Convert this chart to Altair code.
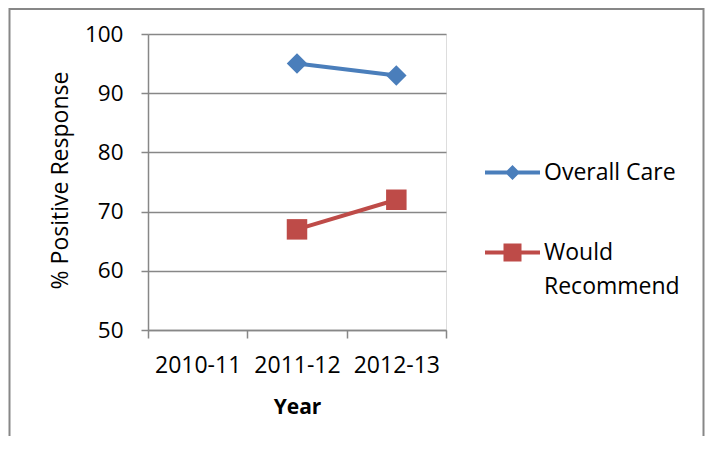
import altair as alt
import pandas as pd

# ---- data ----
years = ["2010-11", "2011-12", "2012-13"]
series_names = ["Overall Care", "Would Recommend"]
overall_care = [None, 95, 93]
would_recommend = [None, 67, 72]
series_colors = ["#4A7EBB", "#BE4B48"]
y_ticks = [50, 60, 70, 80, 90, 100]

rows = []
for name, vals in zip(series_names, [overall_care, would_recommend]):
    for yr, v in zip(years, vals):
        if v is not None:
            rows.append({"year": yr, "series": name, "value": v})
df = pd.DataFrame(rows)

FONT = "Open Sans"
GRAY = "#878787"

x_enc = alt.X(
    "year:N",
    scale=alt.Scale(type="band", domain=years, paddingInner=0, paddingOuter=0),
    axis=alt.Axis(
        title="Year",
        labelAngle=0,
        tickBand="extent",
        tickSize=8,
        tickWidth=1.5,
        tickColor=GRAY,
        domainColor=GRAY,
        domainWidth=1.5,
        grid=False,
        labelFont=FONT,
        labelFontSize=23,
        labelColor="black",
        labelBaseline="alphabetic",
        labelPadding=34,
        titleFont=FONT,
        titleFontSize=21,
        titleFontWeight="bold",
        titleColor="black",
        titleBaseline="alphabetic",
        titleX=149,
        titleY=83,
        titleAlign="center",
    ),
)
y_enc = alt.Y(
    "value:Q",
    scale=alt.Scale(domain=[50, 100], nice=False, zero=False),
    axis=alt.Axis(
        title="% Positive Response",
        values=y_ticks,
        grid=True,
        gridColor=GRAY,
        gridWidth=1.5,
        domainColor=GRAY,
        domainWidth=1.5,
        tickColor=GRAY,
        tickWidth=1.5,
        tickSize=7,
        labelFont=FONT,
        labelFontSize=22.5,
        labelColor="black",
        labelPadding=18,
        titleFont=FONT,
        titleFontSize=23,
        titleFontWeight="normal",
        titleColor="black",
        titleAngle=270,
        titleBaseline="alphabetic",
        titleAlign="center",
        titleX=-81,
        titleY=146,
    ),
)

path_diamond = "M-2.75,-0.2H2.75V0.2H-2.75Z M0,-0.75L0.75,0L0,0.75L-0.75,0Z"
path_square = "M-2.75,-0.2H2.75V0.2H-2.75Z M-0.9,-0.9H0.9V0.9H-0.9Z"


def make_legend(symbol_path, ly, expr=None):
    kw = dict(
        title=None,
        orient="none",
        legendX=353,
        legendY=ly,
        direction="vertical",
        padding=0,
        symbolType=symbol_path,
        symbolSize=400,
        symbolStrokeWidth=0,
        symbolOffset=0,
        symbolOpacity=1,
        labelOffset=20,
        labelFont=FONT,
        labelFontSize=23,
        labelColor="black",
        labelBaseline="middle",
        labelLimit=300,
    )
    if expr is not None:
        kw["labelExpr"] = expr
    return alt.Legend(**kw)


name_a, name_b = series_names
color_a, color_b = series_colors

base = alt.Chart(df)

blue_line = base.transform_filter(alt.datum.series == name_a).mark_line(
    strokeWidth=4, color=color_a
).encode(x=x_enc, y=y_enc)

red_line = base.transform_filter(alt.datum.series == name_b).mark_line(
    strokeWidth=4, color=color_b
).encode(x=x_enc, y=y_enc)

blue_pts = base.transform_filter(alt.datum.series == name_a).mark_point(
    filled=True, opacity=1, size=420, shape="diamond"
).encode(
    x=x_enc,
    y=y_enc,
    color=alt.Color(
        "series:N",
        scale=alt.Scale(domain=[name_a], range=[color_a]),
        legend=make_legend(path_diamond, 127),
    ),
)

red_pts = base.transform_filter(alt.datum.series == name_b).mark_point(
    filled=True, opacity=1, size=420, shape="square"
).encode(
    x=x_enc,
    y=y_enc,
    fill=alt.Fill(
        "series:N",
        scale=alt.Scale(domain=[name_b], range=[color_b]),
        legend=make_legend(path_square, 207, "['Would', 'Recommend']"),
    ),
)

frame = alt.Chart(pd.DataFrame({"frame": [0]})).mark_rect(
    fillOpacity=0, stroke=GRAY, strokeWidth=2
).encode(
    x=alt.value(-138.5),
    x2=alt.value(555.5),
    y=alt.value(-25),
    y2=alt.value(440),
)

chart = (
    alt.layer(frame, blue_line, red_line, blue_pts, red_pts)
    .properties(
        width=298,
        height=296,
        autosize=alt.AutoSizeParams(type="none"),
        padding={"left": 140, "top": 26, "right": 259, "bottom": 106},
        background="white",
    )
    .configure_view(stroke=None)
    .configure(font=FONT, style={"guide-label": {"lineHeight": 34}})
)

chart.save("out.html", embed_options={"renderer": "svg", "actions": False})
